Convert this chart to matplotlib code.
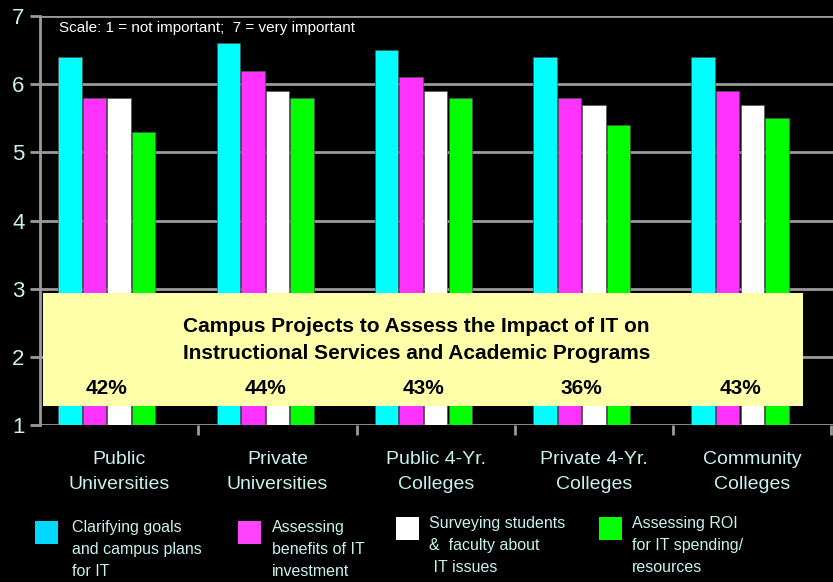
import matplotlib
matplotlib.use("Agg")
import matplotlib.pyplot as plt
from matplotlib.patches import Rectangle
import numpy as np

categories = ["Public\nUniversities", "Private\nUniversities", "Public 4-Yr.\nColleges",
              "Private 4-Yr.\nColleges", "Community\nColleges"]
series_names = ["Clarifying goals\nand campus plans\nfor IT",
                "Assessing\nbenefits of IT\ninvestment",
                "Surveying students\n&  faculty about\n IT issues",
                "Assessing ROI\nfor IT spending/\nresources"]
clarifying = [6.4, 6.6, 6.5, 6.4, 6.4]
benefits = [5.8, 6.2, 6.1, 5.8, 5.9]
surveying = [5.8, 5.9, 5.9, 5.7, 5.7]
roi = [5.3, 5.8, 5.8, 5.4, 5.5]
percents = ["42%", "44%", "43%", "36%", "43%"]
yticks = [1, 2, 3, 4, 5, 6, 7]

series = [clarifying, benefits, surveying, roi]
colors = ["#00FFFF", "#FF33FF", "#FFFFFF", "#00FF00"]
legend_colors = ["#00D8FF", "#FF44FF", "#FFFFFF", "#00FF00"]

FONT = ["Liberation Sans Narrow", "Liberation Sans", "DejaVu Sans"]
plt.rcParams["font.family"] = FONT
label_color = "#C8F2EE"

fig = plt.figure(figsize=(8.33, 5.82), dpi=100, facecolor="black")
ax = fig.add_axes([40/833, 157/582, 793/833, 409/582], facecolor="black")

x = np.arange(len(categories))
w = 0.148
step = 0.155
for k, (vals, c) in enumerate(zip(series, colors)):
    ax.bar(x + (k - 2) * step, np.array(vals) - 1, bottom=1, width=w, color=c,
           edgecolor="#555555", linewidth=0.5, zorder=3)

ax.set_xlim(-0.5, len(categories) - 0.5 + 0.01)
ax.set_ylim(1, 7)
ax.set_yticks(yticks)
ax.set_yticklabels([str(t) for t in yticks], fontsize=16, color=label_color)
ax.yaxis.grid(True, color="#9A9A9A", linewidth=2, zorder=1)
ax.set_axisbelow(True)
for s in ["top", "right", "bottom"]:
    ax.spines[s].set_visible(False)
ax.spines["left"].set_color("#9A9A9A")
ax.spines["left"].set_linewidth(2)
ax.tick_params(axis="y", colors="#9A9A9A", length=7, width=2, labelcolor=label_color, pad=4)

ax.set_xticks(x)
ax.set_xticklabels(categories, fontsize=14, color=label_color, linespacing=1.55)
ax.tick_params(axis="x", length=0, pad=19)
ax.set_xticks(np.arange(len(categories)) + 0.5, minor=True)
ax.tick_params(axis="x", which="minor", length=7, width=2, colors="#9A9A9A")

ax.text(-0.378, 6.82, "Scale: 1 = not important;  7 = very important",
        fontsize=11, color="white", va="center", ha="left")

# yellow box
box = Rectangle((-0.48, 1.28), 4.8, 1.65, facecolor="#FFFFAA", edgecolor="none", zorder=5)
ax.add_patch(box)
ax.text(1.88, 2.25, "Campus Projects to Assess the Impact of IT on\nInstructional Services and Academic Programs",
        ha="center", va="center", fontsize=15, fontweight="bold", color="black",
        linespacing=1.55, zorder=6)
for i, p in enumerate(percents):
    ax.text(i - 0.077, 1.53, p, ha="center", va="center", fontsize=15,
            fontweight="bold", color="black", zorder=6)

# legend
leg_sq = [(35, 521), (238, 521), (396, 517), (599, 517)]
leg_tx = [72, 272, 429, 632]
for k in range(4):
    sx, sy = leg_sq[k]
    fig.text(leg_tx[k]/833, 1 - (sy - 1)/582, series_names[k], fontsize=11.5,
             color=label_color, va="top", ha="left", linespacing=1.6)
    fig.patches.append(Rectangle((sx/833, 1 - (sy + 23)/582), 23/833, 23/582,
                                 transform=fig.transFigure, facecolor=legend_colors[k],
                                 edgecolor="none"))

fig.savefig("out.png", dpi=100, facecolor="black")
